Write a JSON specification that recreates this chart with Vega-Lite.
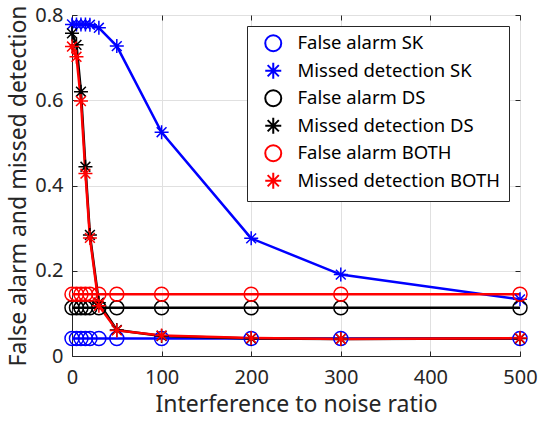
{
  "$schema": "https://vega.github.io/schema/vega-lite/v6.json",
  "width": 448,
  "height": 341,
  "autosize": {"type": "none"},
  "padding": {"left": 72, "top": 15, "right": 21, "bottom": 68},
  "background": "white",
  "config": {
    "font": "Noto Sans",
    "view": {"stroke": "#262626", "strokeWidth": 1},
    "axis": {
      "domainColor": "#262626",
      "tickColor": "#262626",
      "labelColor": "#262626",
      "titleColor": "#262626",
      "labelFont": "Noto Sans",
      "titleFont": "Noto Sans",
      "labelFontSize": 20,
      "titleFontSize": 23,
      "titleFontWeight": "normal",
      "labelFlush": false,
      "gridColor": "#e0e0e0",
      "gridOpacity": 1
    }
  },
  "data": {
    "values": [
      {"x": 0, "v": 0.041, "s": "False alarm SK"},
      {"x": 5, "v": 0.041, "s": "False alarm SK"},
      {"x": 10, "v": 0.041, "s": "False alarm SK"},
      {"x": 15, "v": 0.041, "s": "False alarm SK"},
      {"x": 20, "v": 0.041, "s": "False alarm SK"},
      {"x": 30, "v": 0.041, "s": "False alarm SK"},
      {"x": 50, "v": 0.041, "s": "False alarm SK"},
      {"x": 100, "v": 0.041, "s": "False alarm SK"},
      {"x": 200, "v": 0.041, "s": "False alarm SK"},
      {"x": 300, "v": 0.041, "s": "False alarm SK"},
      {"x": 500, "v": 0.041, "s": "False alarm SK"},
      {"x": 0, "v": 0.778, "s": "Missed detection SK"},
      {"x": 5, "v": 0.778, "s": "Missed detection SK"},
      {"x": 10, "v": 0.778, "s": "Missed detection SK"},
      {"x": 15, "v": 0.778, "s": "Missed detection SK"},
      {"x": 20, "v": 0.777, "s": "Missed detection SK"},
      {"x": 30, "v": 0.770, "s": "Missed detection SK"},
      {"x": 50, "v": 0.727, "s": "Missed detection SK"},
      {"x": 100, "v": 0.525, "s": "Missed detection SK"},
      {"x": 200, "v": 0.276, "s": "Missed detection SK"},
      {"x": 300, "v": 0.191, "s": "Missed detection SK"},
      {"x": 500, "v": 0.133, "s": "Missed detection SK"},
      {"x": 0, "v": 0.113, "s": "False alarm DS"},
      {"x": 5, "v": 0.113, "s": "False alarm DS"},
      {"x": 10, "v": 0.113, "s": "False alarm DS"},
      {"x": 15, "v": 0.113, "s": "False alarm DS"},
      {"x": 20, "v": 0.113, "s": "False alarm DS"},
      {"x": 30, "v": 0.113, "s": "False alarm DS"},
      {"x": 50, "v": 0.113, "s": "False alarm DS"},
      {"x": 100, "v": 0.113, "s": "False alarm DS"},
      {"x": 200, "v": 0.113, "s": "False alarm DS"},
      {"x": 300, "v": 0.113, "s": "False alarm DS"},
      {"x": 500, "v": 0.113, "s": "False alarm DS"},
      {"x": 0, "v": 0.757, "s": "Missed detection DS"},
      {"x": 5, "v": 0.730, "s": "Missed detection DS"},
      {"x": 10, "v": 0.620, "s": "Missed detection DS"},
      {"x": 15, "v": 0.444, "s": "Missed detection DS"},
      {"x": 20, "v": 0.284, "s": "Missed detection DS"},
      {"x": 30, "v": 0.125, "s": "Missed detection DS"},
      {"x": 50, "v": 0.061, "s": "Missed detection DS"},
      {"x": 100, "v": 0.047, "s": "Missed detection DS"},
      {"x": 200, "v": 0.041, "s": "Missed detection DS"},
      {"x": 300, "v": 0.040, "s": "Missed detection DS"},
      {"x": 500, "v": 0.041, "s": "Missed detection DS"},
      {"x": 0, "v": 0.145, "s": "False alarm BOTH"},
      {"x": 5, "v": 0.145, "s": "False alarm BOTH"},
      {"x": 10, "v": 0.145, "s": "False alarm BOTH"},
      {"x": 15, "v": 0.145, "s": "False alarm BOTH"},
      {"x": 20, "v": 0.145, "s": "False alarm BOTH"},
      {"x": 30, "v": 0.145, "s": "False alarm BOTH"},
      {"x": 50, "v": 0.145, "s": "False alarm BOTH"},
      {"x": 100, "v": 0.145, "s": "False alarm BOTH"},
      {"x": 200, "v": 0.145, "s": "False alarm BOTH"},
      {"x": 300, "v": 0.145, "s": "False alarm BOTH"},
      {"x": 500, "v": 0.145, "s": "False alarm BOTH"},
      {"x": 0, "v": 0.726, "s": "Missed detection BOTH"},
      {"x": 5, "v": 0.702, "s": "Missed detection BOTH"},
      {"x": 10, "v": 0.598, "s": "Missed detection BOTH"},
      {"x": 15, "v": 0.428, "s": "Missed detection BOTH"},
      {"x": 20, "v": 0.277, "s": "Missed detection BOTH"},
      {"x": 30, "v": 0.118, "s": "Missed detection BOTH"},
      {"x": 50, "v": 0.060, "s": "Missed detection BOTH"},
      {"x": 100, "v": 0.048, "s": "Missed detection BOTH"},
      {"x": 200, "v": 0.042, "s": "Missed detection BOTH"},
      {"x": 300, "v": 0.040, "s": "Missed detection BOTH"},
      {"x": 500, "v": 0.042, "s": "Missed detection BOTH"}
    ]
  },
  "layer": [
    {
      "mark": {"type": "line", "strokeWidth": 2.5},
      "encoding": {
        "x": {
          "field": "x", "type": "quantitative",
          "scale": {"domain": [0, 500], "nice": false, "zero": false},
          "axis": {"orient": "bottom", "title": "Interference to noise ratio", "values": [0, 100, 200, 300, 400, 500], "tickSize": -5, "labelPadding": 16, "titlePadding": 6, "grid": true}
        },
        "y": {
          "field": "v", "type": "quantitative",
          "scale": {"domain": [0, 0.8], "nice": false, "zero": false},
          "axis": {"orient": "left", "title": "False alarm and missed detection", "values": [0, 0.2, 0.4, 0.6, 0.8], "format": "~g", "tickSize": -5, "labelPadding": 14, "titlePadding": 4, "grid": true}
        },
        "color": {
          "field": "s", "type": "nominal",
          "scale": {
            "domain": ["False alarm SK", "Missed detection SK", "False alarm DS", "Missed detection DS", "False alarm BOTH", "Missed detection BOTH"],
            "range": ["#0000ff", "#0000ff", "#000000", "#000000", "#ff0000", "#ff0000"]
          }
        }
      }
    },
    {
      "mark": {"type": "point", "filled": false, "size": 196, "strokeWidth": 1.5, "opacity": 1},
      "encoding": {
        "x": {
          "field": "x", "type": "quantitative",
          "axis": {"orient": "top", "title": null, "labels": false, "values": [0, 100, 200, 300, 400, 500], "tickSize": -5, "grid": false, "domain": false}
        },
        "y": {
          "field": "v", "type": "quantitative",
          "axis": {"orient": "right", "title": null, "labels": false, "values": [0, 0.2, 0.4, 0.6, 0.8], "tickSize": -5, "grid": false, "domain": false}
        },
        "color": {
          "field": "s", "type": "nominal",
          "legend": {
            "title": null,
            "orient": "top-right",
            "offset": 11,
            "padding": 8,
            "symbolOffset": 9,
            "symbolSize": 256,
            "symbolStrokeWidth": 2,
            "labelOffset": 15,
            "labelFontSize": 18.5,
            "labelLimit": 400,
            "labelColor": "#000000",
            "labelFont": "Noto Sans",
            "rowPadding": 2.5,
            "strokeColor": "#262626",
            "fillColor": "white"
          }
        },
        "shape": {
          "field": "s", "type": "nominal",
          "scale": {
            "domain": ["False alarm SK", "Missed detection SK", "False alarm DS", "Missed detection DS", "False alarm BOTH", "Missed detection BOTH"],
            "range": ["circle", "M0,-1V1M-1,0H1M-0.7,-0.7L0.7,0.7M-0.7,0.7L0.7,-0.7", "circle", "M0,-1V1M-1,0H1M-0.7,-0.7L0.7,0.7M-0.7,0.7L0.7,-0.7", "circle", "M0,-1V1M-1,0H1M-0.7,-0.7L0.7,0.7M-0.7,0.7L0.7,-0.7"]
          },
          "legend": null
        }
      }
    }
  ],
  "resolve": {"axis": {"x": "independent", "y": "independent"}}
}
